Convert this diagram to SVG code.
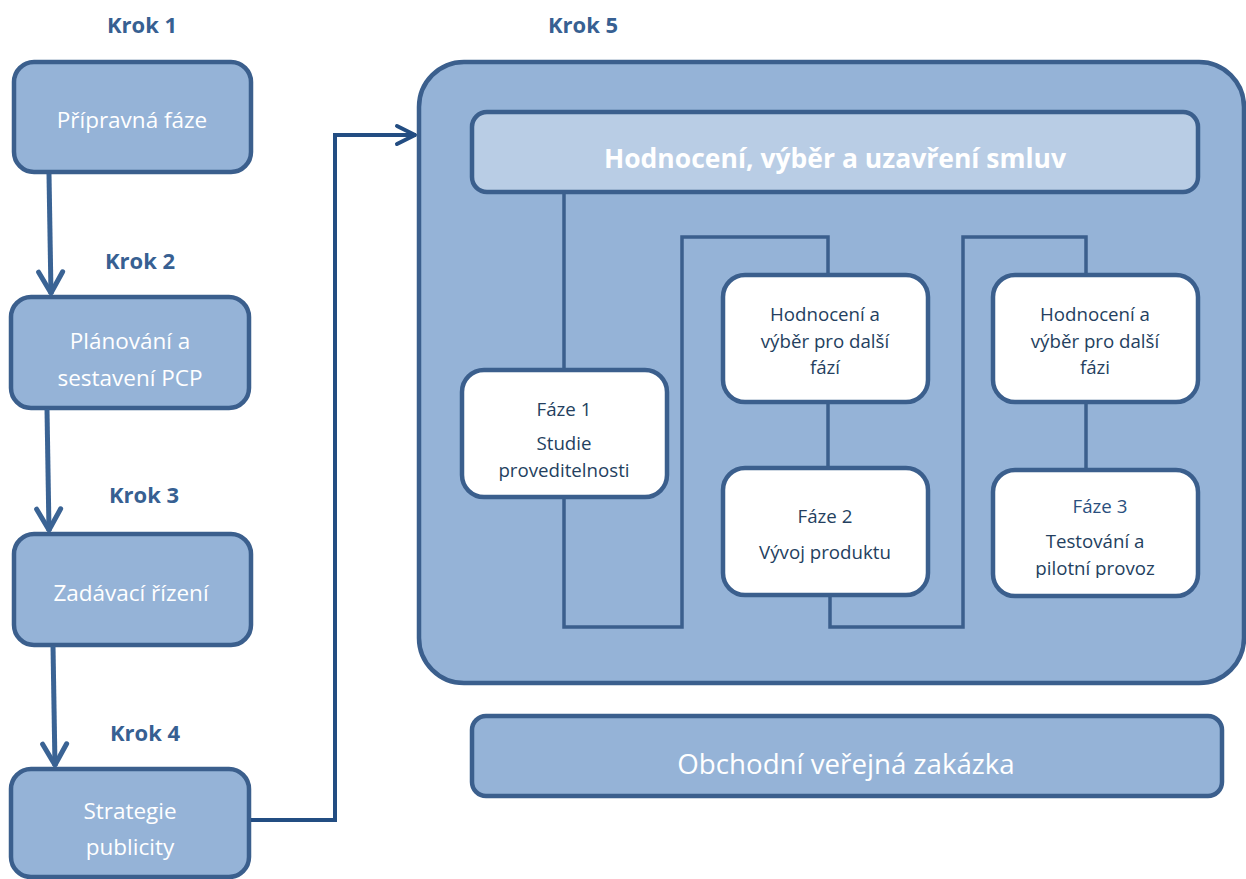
<svg xmlns="http://www.w3.org/2000/svg" width="1246" height="879" viewBox="0 0 1246 879">
<style>
.step{fill:#95b3d7;stroke:#3b5f8d;stroke-width:4.5}
.outer{fill:#95b3d7;stroke:#3b5f8d;stroke-width:4.5}
.head{fill:#b9cde5;stroke:#3b5f8d;stroke-width:4.5}
.white{fill:#ffffff;stroke:#3b5f8d;stroke-width:4.5}
.krok{font-family:"Open Sans","Liberation Sans",sans-serif;font-weight:bold;font-size:22px;fill:#376092;text-anchor:middle}
.lt{font-family:"Open Sans","Liberation Sans",sans-serif;font-size:22.5px;fill:#ffffff;text-anchor:middle}
.ht{font-family:"Open Sans","Liberation Sans",sans-serif;font-weight:bold;font-size:26.5px;fill:#ffffff;text-anchor:middle}
.wt{font-family:"Open Sans","Liberation Sans",sans-serif;font-size:18.7px;fill:#243f60;text-anchor:middle}
.ob{font-family:"Open Sans","Liberation Sans",sans-serif;font-size:27.7px;fill:#ffffff;text-anchor:middle}
.arr{fill:none;stroke:#3a6394;stroke-width:5;stroke-linejoin:round}
.arr2{fill:none;stroke:#234d82;stroke-width:4;stroke-linejoin:miter}
.tree{fill:none;stroke:#3b5f8d;stroke-width:3.5}
</style>
<defs>
<marker id="ahL" viewBox="-26 -16 30 32" markerWidth="30" markerHeight="32" refX="0" refY="0" orient="auto" markerUnits="userSpaceOnUse">
<path d="M-22,-12 L-1,0 L-22,12" fill="none" stroke="#3a6394" stroke-width="5" stroke-linecap="round" stroke-linejoin="round"/>
</marker>
<marker id="ahR" viewBox="-26 -16 30 32" markerWidth="30" markerHeight="32" refX="0" refY="0" orient="auto" markerUnits="userSpaceOnUse">
<path d="M-19,-9 L-1,0 L-19,9" fill="none" stroke="#234d82" stroke-width="4" stroke-linecap="round" stroke-linejoin="round"/>
</marker>
<clipPath id="clipF3"><rect x="990" y="470" width="210" height="108"/></clipPath>
</defs>

<g id="labels">
<text class="krok" x="142" y="33">Krok 1</text>
<text class="krok" x="140" y="269">Krok 2</text>
<text class="krok" x="144" y="503">Krok 3</text>
<text class="krok" x="145" y="741">Krok 4</text>
<text class="krok" x="583" y="33">Krok 5</text>
</g>

<g id="step1">
<rect class="step" x="14" y="62" width="237" height="110" rx="20"/>
<text class="lt" x="132" y="128">Přípravná fáze</text>
</g>
<g id="step2">
<rect class="step" x="11" y="297" width="238" height="111" rx="20"/>
<text class="lt" x="130" y="349">Plánování a</text>
<text class="lt" x="130" y="386">sestavení PCP</text>
</g>
<g id="step3">
<rect class="step" x="14" y="534" width="237" height="111" rx="20"/>
<text class="lt" x="131" y="601">Zadávací řízení</text>
</g>
<g id="step4">
<rect class="step" x="11" y="769" width="238" height="108" rx="20"/>
<text class="lt" x="130" y="819">Strategie</text>
<text class="lt" x="130" y="855">publicity</text>
</g>

<g id="connectors">
<path class="arr" d="M49,174 L51,294" marker-end="url(#ahL)"/>
<path class="arr" d="M47,409 L49,531" marker-end="url(#ahL)"/>
<path class="arr" d="M53,646 L55,766" marker-end="url(#ahL)"/>
<path class="arr2" d="M251,820 L335,820 L335,135 L416,135" marker-end="url(#ahR)"/>
</g>

<g id="step5">
<rect class="outer" x="419" y="62" width="825" height="621" rx="45"/>
</g>

<g id="header">
<rect class="head" x="472" y="112" width="726" height="80" rx="15"/>
<text class="ht" x="835" y="168">Hodnocení, výběr a uzavření smluv</text>
</g>

<g id="inner-connectors">
<path class="tree" d="M564,192 L564,371"/>
<path class="tree" d="M564,496 L564,627 L682,627 L682,237 L828,237 L828,276"/>
<path class="tree" d="M828,401 L828,468"/>
<path class="tree" d="M830,595 L830,627 L963,627 L963,237 L1086,237 L1086,276"/>
<path class="tree" d="M1086,401 L1086,470"/>
</g>

<g id="faze1">
<rect class="white" x="462" y="370" width="205" height="127" rx="22"/>
<text class="wt" x="564" y="416">Fáze 1</text>
<text class="wt" x="564" y="450">Studie</text>
<text class="wt" x="564" y="477">proveditelnosti</text>
</g>
<g id="hodnoceni1">
<rect class="white" x="723" y="275" width="205" height="127" rx="22"/>
<text class="wt" x="825" y="321">Hodnocení a</text>
<text class="wt" x="825" y="348">výběr pro další</text>
<text class="wt" x="825" y="374">fází</text>
</g>
<g id="faze2">
<rect class="white" x="723" y="468" width="205" height="127" rx="22"/>
<text class="wt" x="825" y="523">Fáze 2</text>
<text class="wt" x="825" y="559">Vývoj produktu</text>
</g>
<g id="hodnoceni2">
<rect class="white" x="993" y="275" width="205" height="127" rx="22"/>
<text class="wt" x="1095" y="321">Hodnocení a</text>
<text class="wt" x="1095" y="348">výběr pro další</text>
<text class="wt" x="1095" y="374">fázi</text>
</g>
<g id="faze3">
<rect class="white" x="993" y="470" width="205" height="126" rx="22"/>
<g clip-path="url(#clipF3)">
<text class="wt" x="1100" y="513" style="fill:#2a4f7e">Fáze 3</text>
<text class="wt" x="1095" y="548">Testování a</text>
<text class="wt" x="1095" y="575">pilotní provoz</text>
</g>
</g>

<g id="obchodni">
<rect class="step" x="472" y="716" width="750" height="80" rx="14"/>
<text class="ob" x="846" y="774">Obchodní veřejná zakázka</text>
</g>
</svg>
